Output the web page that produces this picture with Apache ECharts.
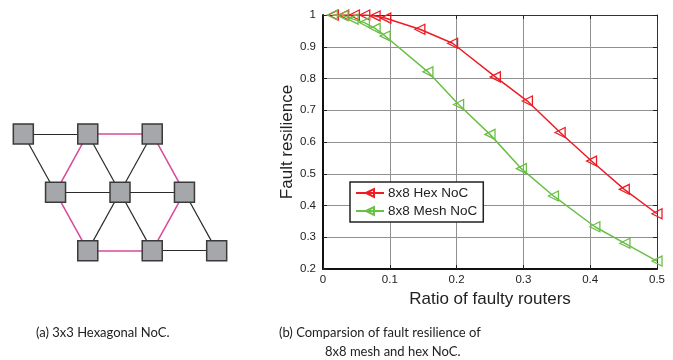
<!DOCTYPE html>
<html><head><meta charset="utf-8">
<script src="https://cdn.jsdelivr.net/npm/echarts@6/dist/echarts.min.js"></script>
<style>html,body{margin:0;padding:0;background:#fff}#c{width:673px;height:360px}</style>
</head><body><div id="c"></div>
<script>
// Diagram (a): hexagonal lattice positions (lattice units)
const nodeCol = [0, 2, 4, 1, 3, 5, 2, 4, 6];
const nodeRow = [0, 0, 0, 1, 1, 1, 2, 2, 2];
const blackLinks = [[0,1],[0,3],[1,4],[2,4],[3,4],[4,5],[4,6],[4,7],[7,8],[5,8]];
const pinkLinks = [[1,2],[1,3],[2,5],[3,6],[6,7],[5,7]];

// Chart (b)
const hexX = [0.0156, 0.031, 0.047, 0.0625, 0.078, 0.094, 0.145, 0.194, 0.258, 0.306, 0.355, 0.402, 0.451, 0.5];
const hexY = [1, 1, 1, 1, 0.997, 0.99, 0.955, 0.911, 0.805, 0.729, 0.63, 0.54, 0.451, 0.374];
const meshX = [0.014, 0.030, 0.045, 0.062, 0.078, 0.093, 0.157, 0.203, 0.25, 0.297, 0.345, 0.407, 0.452, 0.5];
const meshY = [1, 0.998, 0.987, 0.976, 0.958, 0.934, 0.821, 0.718, 0.624, 0.516, 0.43, 0.333, 0.281, 0.225];
const seriesNames = ['8x8 Hex NoC', '8x8 Mesh NoC'];
const captionA = '(a) 3x3 Hexagonal NoC.';
const captionB1 = '(b) Comparsion of fault resilience of';
const captionB2 = '8x8 mesh and hex NoC.';

const RED = '#ee1c25', GREEN = '#6abf45', PINK = '#d9479b';
const chart = echarts.init(document.getElementById('c'), null, {renderer: 'canvas'});
const fmt = v => String(+(+v).toFixed(1));
const hidden = {show: false};

const nodes = nodeCol.map((c, i) => ({name: 'n' + i, value: [c, nodeRow[i]]}));
const links = blackLinks.map(([s, t]) => ({source: s, target: t, lineStyle: {color: '#2a2a2a', width: 1.2, opacity: 1}}))
  .concat(pinkLinks.map(([s, t]) => ({source: s, target: t, lineStyle: {color: PINK, width: 1.5, opacity: 1}})));

const tickInside = {show: true, inside: true, length: 4, lineStyle: {color: '#222'}};
chart.setOption({
  animation: false,
  textStyle: {fontFamily: 'Liberation Sans, Arial, sans-serif'},
  grid: [
    {left: 323, top: 15, width: 334, height: 254, show: false},
    {left: 7.2, top: 104.8, width: 225.6, height: 175, show: false}
  ],
  xAxis: [
    {gridIndex: 0, type: 'value', min: 0, max: 0.5, interval: 0.1,
     axisLine: {show: true, onZero: false, lineStyle: {color: '#111', width: 2}},
     axisTick: tickInside,
     axisLabel: {formatter: fmt, color: '#222', fontSize: 11.5, margin: 5},
     splitLine: {show: true, lineStyle: {color: '#909090', width: 1}},
     name: 'Ratio of faulty routers', nameLocation: 'middle', nameGap: 20,
     nameTextStyle: {fontSize: 17, color: '#222'}},
    {gridIndex: 0, type: 'value', position: 'top', min: 0, max: 0.5, interval: 0.1,
     axisLine: {show: true, onZero: false, lineStyle: {color: '#333', width: 1}},
     axisTick: tickInside, axisLabel: hidden, splitLine: hidden},
    {gridIndex: 1, type: 'value', min: -0.5, max: 6.5, show: false}
  ],
  yAxis: [
    {gridIndex: 0, type: 'value', min: 0.2, max: 1, interval: 0.1,
     axisLine: {show: true, onZero: false, lineStyle: {color: '#111', width: 2}},
     axisTick: tickInside,
     axisLabel: {formatter: fmt, color: '#222', fontSize: 11.5, margin: 7},
     splitLine: {show: true, lineStyle: {color: '#909090', width: 1}},
     name: 'Fault resilience', nameLocation: 'middle', nameGap: 27,
     nameTextStyle: {fontSize: 17, color: '#222'}},
    {gridIndex: 0, type: 'value', position: 'right', min: 0.2, max: 1, interval: 0.1,
     axisLine: {show: true, onZero: false, lineStyle: {color: '#333', width: 1}},
     axisTick: tickInside, axisLabel: hidden, splitLine: hidden},
    {gridIndex: 1, type: 'value', min: -0.5, max: 2.5, inverse: true, show: false}
  ],
  legend: {
    left: 350, top: 182, orient: 'vertical', itemGap: 4, padding: [4, 6, 4, 5],
    backgroundColor: '#fff', borderColor: '#222', borderWidth: 1.5, borderRadius: 0,
    itemWidth: 28, itemHeight: 10,
    textStyle: {fontSize: 13.5, color: '#222', padding: [0, 0, 0, -1]},
    data: seriesNames
  },
  series: [
    {type: 'graph', coordinateSystem: 'cartesian2d', xAxisIndex: 2, yAxisIndex: 2,
     layout: 'none', symbol: 'rect', symbolSize: 20, silent: true,
     itemStyle: {color: '#a6a7ab', borderColor: '#3a3a3a', borderWidth: 1.5},
     label: {show: false}, data: nodes, links: links, z: 2},
    {name: seriesNames[0], type: 'line', xAxisIndex: 0, yAxisIndex: 0,
     data: hexX.map((x, i) => [x, hexY[i]]),
     symbol: 'triangle', symbolRotate: 90, symbolSize: 10, showAllSymbol: true,
     lineStyle: {color: RED, width: 1.5},
     itemStyle: {color: 'rgba(255,255,255,0)', borderColor: RED, borderWidth: 1.3}},
    {name: seriesNames[1], type: 'line', xAxisIndex: 0, yAxisIndex: 0,
     data: meshX.map((x, i) => [x, meshY[i]]),
     symbol: 'triangle', symbolRotate: 90, symbolSize: 10, showAllSymbol: true,
     lineStyle: {color: GREEN, width: 1.5},
     itemStyle: {color: 'rgba(255,255,255,0)', borderColor: GREEN, borderWidth: 1.3}}
  ],
  graphic: [
    {type: 'text', left: 36, top: 326, style: {text: captionA, font: '13px Lato, "Open Sans", sans-serif', fill: '#222'}},
    {type: 'text', left: 279, top: 326, style: {text: captionB1, font: '13px Lato, "Open Sans", sans-serif', fill: '#222'}},
    {type: 'text', left: 325, top: 345, style: {text: captionB2, font: '13px Lato, "Open Sans", sans-serif', fill: '#222'}}
  ]
});
</script></body></html>
